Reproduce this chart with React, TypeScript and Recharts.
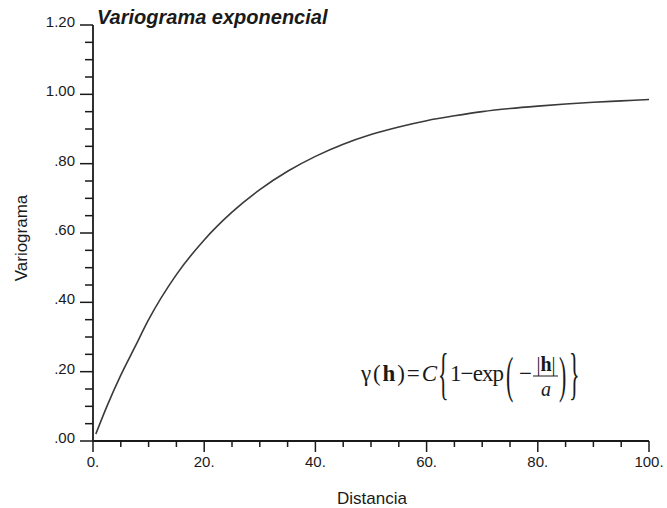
import React from "react";
import { LineChart, Line, XAxis, YAxis } from "recharts";

// distance (h) and variogram value
const distancia = [0.5, 2.5, 5, 7.5, 10, 15, 20, 25, 30, 35, 40, 45, 50, 55, 60, 65, 70, 75, 80, 85, 90, 95, 100];
const variograma = [
  0.02, 0.1, 0.19, 0.27, 0.35, 0.48, 0.58, 0.66, 0.725, 0.778, 0.821, 0.856, 0.884, 0.906, 0.924, 0.938, 0.95,
  0.959, 0.966, 0.972, 0.977, 0.981, 0.985,
];

const xTicks = [0, 5, 10, 15, 20, 25, 30, 35, 40, 45, 50, 55, 60, 65, 70, 75, 80, 85, 90, 95, 100];
const yTicks = [
  0, 0.05, 0.1, 0.15, 0.2, 0.25, 0.3, 0.35, 0.4, 0.45, 0.5, 0.55, 0.6, 0.65, 0.7, 0.75, 0.8, 0.85, 0.9, 0.95, 1,
  1.05, 1.1, 1.15, 1.2,
];

const data = distancia.map((d, i) => ({ d, v: variograma[i] }));

const SANS = "'Liberation Sans', Arial, Helvetica, sans-serif";
const SERIF = "'Liberation Serif', 'Times New Roman', serif";
const INK = "#1a1a1a";

const isMajor = (v: number, step: number) => Math.round(v * 100) % step === 0;

const yLabel = (v: number) => {
  const s = v.toFixed(2);
  return s.startsWith("0") ? s.slice(1) : s;
};

const XTick = (props: any) => {
  const { x, y, payload } = props;
  const major = isMajor(payload.value, 2000);
  return (
    <g>
      <line x1={x} y1={y} x2={x} y2={y + (major ? 11 : 6)} stroke={INK} strokeWidth={1.5} />
      {major && (
        <text x={x} y={y + 26} textAnchor='middle' fontSize={15} fontFamily={SANS} fill={INK}>
          {payload.value}.
        </text>
      )}
    </g>
  );
};

const YTick = (props: any) => {
  const { x, y, payload } = props;
  const major = isMajor(payload.value, 20);
  return (
    <g>
      <line x1={x} y1={y} x2={x - (major ? 13 : 8)} y2={y} stroke={INK} strokeWidth={1.5} />
      {major && (
        <text x={x - 18} y={y + 2} textAnchor='end' fontSize={15} fontFamily={SANS} fill={INK}>
          {yLabel(payload.value)}
        </text>
      )}
    </g>
  );
};

export default function App() {
  return (
    <div style={{ position: "absolute", left: 0, top: 0, width: 667, height: 508, background: "#fff" }}>
      <LineChart width={667} height={508} data={data} margin={{ top: 25, right: 18, bottom: 0, left: 0 }}>
        <XAxis
          dataKey='d'
          type='number'
          domain={[0, 100]}
          ticks={xTicks}
          interval={0}
          tickSize={0}
          tickMargin={0}
          tick={<XTick />}
          height={67}
          axisLine={{ stroke: INK, strokeWidth: 1.8 }}
          tickLine={false}
        />
        <YAxis
          type='number'
          domain={[0, 1.2]}
          ticks={yTicks}
          interval={0}
          tickSize={0}
          tickMargin={0}
          tick={<YTick />}
          width={93}
          axisLine={{ stroke: INK, strokeWidth: 1.8 }}
          tickLine={false}
        />
        <Line
          dataKey='v'
          type='monotone'
          stroke='#3a3a3a'
          strokeWidth={1.6}
          dot={false}
          isAnimationActive={false}
        />
      </LineChart>
      <svg width={667} height={508} style={{ position: "absolute", left: 0, top: 0, pointerEvents: "none" }}>
        <text x={97} y={24} fontSize={20} fontWeight='bold' fontStyle='italic' fontFamily={SANS} fill={INK}>
          Variograma exponencial
        </text>
        <text x={372} y={504} textAnchor='middle' fontSize={17} fontFamily={SANS} fill={INK}>
          Distancia
        </text>
        <text
          x={0}
          y={0}
          transform='translate(27 238) rotate(-90)'
          textAnchor='middle'
          fontSize={17}
          fontFamily={SANS}
          fill={INK}>
          Variograma
        </text>
        {/* formula */}
        <g fontFamily={SERIF} fill={INK}>
          <text x={361} y={381} fontSize={23} textLength={76} lengthAdjust='spacing'>
            γ(<tspan fontWeight='bold'>h</tspan>)=<tspan fontStyle='italic'>C</tspan>
          </text>
          <text x={0} y={0} fontSize={22} transform='translate(438 393) scale(1 2.6)'>
            {"{"}
          </text>
          <text x={450} y={381} fontSize={23} textLength={54} lengthAdjust='spacing'>
            1−exp
          </text>
          <text x={0} y={0} fontSize={22} transform='translate(506 392) scale(1 2.3)'>
            (
          </text>
          <text x={519} y={381} fontSize={23}>
            −
          </text>
          <text x={546} y={371} fontSize={20} textAnchor='middle'>
            |<tspan fontWeight='bold'>h</tspan>|
          </text>
          <line x1={533} y1={376} x2={558} y2={376} stroke={INK} strokeWidth={1} />
          <text x={546} y={396} fontSize={20} textAnchor='middle' fontStyle='italic'>
            a
          </text>
          <text x={0} y={0} fontSize={22} transform='translate(559 392) scale(1 2.3)'>
            )
          </text>
          <text x={0} y={0} fontSize={22} transform='translate(569 393) scale(1 2.6)'>
            {"}"}
          </text>
        </g>
      </svg>
    </div>
  );
}
